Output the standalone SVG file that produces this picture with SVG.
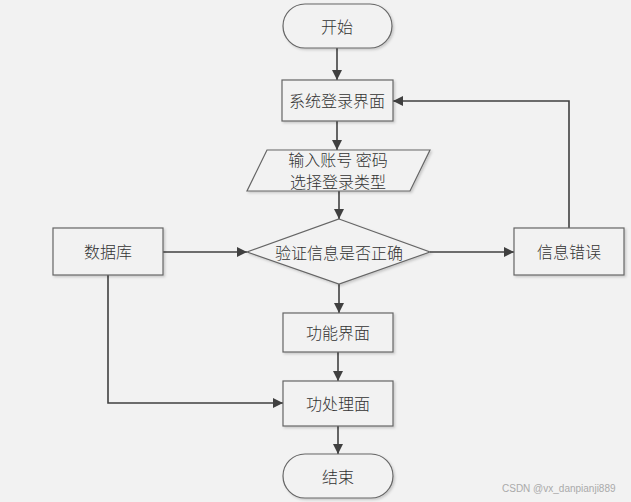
<svg xmlns="http://www.w3.org/2000/svg" width="631" height="502" viewBox="0 0 631 502">
<defs>
<marker id="arr" viewBox="0 0 10 10" refX="10" refY="5" markerWidth="10" markerHeight="10" markerUnits="userSpaceOnUse" orient="auto">
<path d="M0,0 L10,5 L0,10 Z" fill="#404040"/>
</marker>
<filter id="sh" x="-10%" y="-10%" width="130%" height="130%">
<feDropShadow dx="1.5" dy="1.5" stdDeviation="0.8" flood-color="#000" flood-opacity="0.18"/>
</filter>
</defs>
<style>
.n{fill:#f2f2f2;stroke:#666;stroke-width:1.2;filter:url(#sh)}
.t{font-family:"Noto Sans CJK SC","Noto Sans",sans-serif;font-size:16px;font-weight:300;fill:#333;text-anchor:middle;dominant-baseline:central}
.c{fill:none;stroke:#404040;stroke-width:1.6;marker-end:url(#arr)}
</style>
<rect width="631" height="502" fill="#f2f2f2"/>
<g id="connectors">
<path class="c" d="M337,48 V80"/>
<path class="c" d="M337,121 V150"/>
<path class="c" d="M339,191 V219"/>
<path class="c" d="M163,252 H247"/>
<path class="c" d="M430,252 H514"/>
<path class="c" d="M569,228 V101 H393"/>
<path class="c" d="M339,284 V313"/>
<path class="c" d="M338,352 V381"/>
<path class="c" d="M108,275 V403 H283"/>
<path class="c" d="M338,426 V454"/>
</g>
<g id="start"><rect class="n" x="283" y="4" width="109" height="44" rx="22"/><text class="t" x="337" y="26">开始</text></g>
<g id="login"><rect class="n" x="282" y="80" width="111" height="41"/><text class="t" x="337" y="100">系统登录界面</text></g>
<g id="input"><polygon class="n" points="267,150 430,150 410,191 247,191"/><text class="t" x="338" y="159">输入账号 密码</text><text class="t" x="338" y="181">选择登录类型</text></g>
<g id="verify"><polygon class="n" points="339,219 430,252 339,284 247,252"/><text class="t" x="339" y="252">验证信息是否正确</text></g>
<g id="db"><rect class="n" x="53" y="228" width="110" height="47"/><text class="t" x="108" y="251">数据库</text></g>
<g id="error"><rect class="n" x="514" y="228" width="110" height="47"/><text class="t" x="569" y="251">信息错误</text></g>
<g id="func"><rect class="n" x="283" y="313" width="110" height="39"/><text class="t" x="338" y="332">功能界面</text></g>
<g id="proc"><rect class="n" x="283" y="381" width="110" height="45"/><text class="t" x="338" y="403">功处理面</text></g>
<g id="end"><rect class="n" x="283" y="454" width="110" height="44" rx="22"/><text class="t" x="338" y="476">结束</text></g>
<text x="502" y="492" font-family="'Liberation Sans',sans-serif" font-size="10" fill="#aaa">CSDN @vx_danpianji889</text>
</svg>
